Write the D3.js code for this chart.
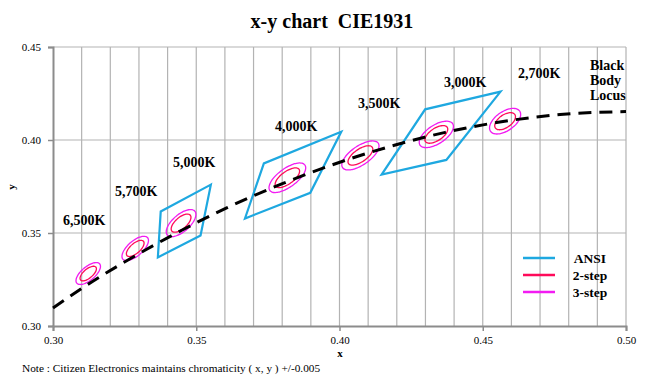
<!DOCTYPE html>
<html lang="en">
<head>
  <meta charset="UTF-8">
  <title>x-y chart CIE1931</title>
  <script src="https://d3js.org/d3.v7.min.js"></script>
  <style>
    body { margin: 0; background: #fff; }
    svg { font-family: "Liberation Serif", "Times New Roman", serif; }
    .tick-label { font-size: 11px; fill: #000; }
    .cct { font-size: 14px; font-weight: bold; fill: #000; }
    .legend text { font-size: 13.5px; font-weight: bold; }
  </style>
</head>
<body>
  <svg width="672" height="385"></svg>
  <script>
    // black body (Planckian) locus
    const locusX = [0.300, 0.3135, 0.3221, 0.3324, 0.3451, 0.3608, 0.3805, 0.4053, 0.4369, 0.4599, 0.4770, 0.500];
    const locusY = [0.3097, 0.3237, 0.3318, 0.3410, 0.3516, 0.3636, 0.3768, 0.3907, 0.4041, 0.4106, 0.4137, 0.4153];

    // ANSI quadrangles (corners x, y)
    const ansiNames = ["5,000K", "4,000K", "3,000K"];
    const ansiX = [
      [0.3551, 0.3376, 0.3366, 0.3515],
      [0.4006, 0.3736, 0.3670, 0.3898],
      [0.4562, 0.4299, 0.4147, 0.4373]
    ];
    const ansiY = [
      [0.3760, 0.3616, 0.3369, 0.3487],
      [0.4044, 0.3874, 0.3578, 0.3716],
      [0.4260, 0.4165, 0.3814, 0.3893]
    ];

    // MacAdam ellipses: centres and 1-step axes / angle
    const cctNames = ["6,500K", "5,700K", "5,000K", "4,000K", "3,500K", "3,000K", "2,700K"];
    const ellX = [0.3123, 0.3287, 0.3447, 0.3818, 0.4073, 0.4338, 0.4578];
    const ellY = [0.3282, 0.3417, 0.3553, 0.3797, 0.3917, 0.4030, 0.4101];
    const ellA = [0.00223, 0.00246, 0.00274, 0.00313, 0.00309, 0.00278, 0.00258];
    const ellB = [0.00095, 0.00103, 0.00118, 0.00134, 0.00138, 0.00136, 0.00137];
    const ellTheta = [58.23, 59.09, 59.37, 54.00, 52.90, 53.13, 57.28];
    const steps = [3, 2];

    // CCT label anchors (x, y in chart units)
    const labelX = [0.3035, 0.3216, 0.3419, 0.3775, 0.4065, 0.4365, 0.4623];
    const labelY = [0.3543, 0.3699, 0.3855, 0.4048, 0.4172, 0.4285, 0.4333];

    const xTicks = [0.30, 0.35, 0.40, 0.45, 0.50];
    const yTicks = [0.30, 0.35, 0.40, 0.45];

    const svg = d3.select("svg");
    const x = d3.scaleLinear().domain([0.30, 0.50]).range([53, 626]);
    const y = d3.scaleLinear().domain([0.30, 0.45]).range([326, 47]);

    const ansiColor = "#1ea8e0", step2Color = "#ff0a5a", step3Color = "#f21cf2";

    // grid
    const g = svg.append("g");
    g.selectAll(".vgrid")
      .data(d3.range(31, 51).map(d => d / 100))
      .enter().append("line")
      .attr("x1", d => x(d)).attr("x2", d => x(d))
      .attr("y1", y(0.45)).attr("y2", y(0.30))
      .attr("stroke", "#b3b3b3").attr("stroke-width", 1.2);
    g.selectAll(".hgrid")
      .data([0.35, 0.40, 0.45])
      .enter().append("line")
      .attr("x1", x(0.30)).attr("x2", x(0.50))
      .attr("y1", d => y(d)).attr("y2", d => y(d))
      .attr("stroke", "#b3b3b3").attr("stroke-width", 1.2);

    // axes
    const xAxis = d3.axisBottom(x).tickValues(xTicks).tickSize(5).tickPadding(5).tickFormat(d3.format(".2f"));
    const yAxis = d3.axisLeft(y).tickValues(yTicks).tickSize(5).tickPadding(7).tickFormat(d3.format(".2f"));
    const gx = svg.append("g").attr("transform", `translate(0,${y(0.30)})`).call(xAxis);
    const gy = svg.append("g").attr("transform", `translate(${x(0.30)},0)`).call(yAxis);
    [gx, gy].forEach(a => {
      a.attr("font-family", null);
      a.select(".domain").attr("stroke", "#8c8c8c").attr("stroke-width", 2);
      a.selectAll(".tick line").attr("stroke", "#8c8c8c").attr("stroke-width", 1.5);
      a.selectAll(".tick text").attr("class", "tick-label")
        .style("font-family", "Liberation Serif, serif").style("font-size", "11px");
    });

    // ANSI quadrangles
    svg.append("g").selectAll("path")
      .data(ansiNames.map((n, i) => ansiX[i].map((v, j) => [v, ansiY[i][j]])))
      .enter().append("path")
      .attr("d", d => d3.line().x(p => x(p[0])).y(p => y(p[1]))(d) + "Z")
      .attr("fill", "none").attr("stroke", ansiColor).attr("stroke-width", 2.2)
      .attr("stroke-linejoin", "miter");

    // MacAdam ellipses
    const angles = d3.range(0, 361, 6).map(d => d * Math.PI / 180);
    const ellipse = (i, k) => angles.map(t => {
      const th = ellTheta[i] * Math.PI / 180, a = ellA[i] * k, b = ellB[i] * k;
      return [ellX[i] + a * Math.cos(t) * Math.cos(th) - b * Math.sin(t) * Math.sin(th),
              ellY[i] + a * Math.cos(t) * Math.sin(th) + b * Math.sin(t) * Math.cos(th)];
    });
    const eg = svg.append("g");
    steps.forEach(k => {
      eg.selectAll(".e" + k)
        .data(cctNames)
        .enter().append("path")
        .attr("d", (d, i) => d3.line().x(p => x(p[0])).y(p => y(p[1])).curve(d3.curveCardinalClosed)(ellipse(i, k).slice(0, -1)))
        .attr("fill", "none")
        .attr("stroke", k === 2 ? step2Color : step3Color)
        .attr("stroke-width", 1.3);
    });

    // black body locus
    svg.append("path")
      .datum(locusX.map((v, i) => [v, locusY[i]]))
      .attr("d", d3.line().x(p => x(p[0])).y(p => y(p[1])).curve(d3.curveMonotoneX))
      .attr("fill", "none").attr("stroke", "#000").attr("stroke-width", 3)
      .attr("stroke-dasharray", "13,8");

    // CCT labels
    svg.append("g").selectAll("text")
      .data(cctNames)
      .enter().append("text")
      .attr("class", "cct")
      .attr("x", (d, i) => x(labelX[i])).attr("y", (d, i) => y(labelY[i]))
      .text(d => d);

    svg.append("text").attr("class", "cct")
      .selectAll("tspan").data(["Black", "Body", "Locus"])
      .enter().append("tspan")
      .attr("x", 590).attr("y", (d, i) => 70 + i * 15)
      .text(d => d);

    // legend
    const legend = svg.append("g").attr("class", "legend");
    [["ANSI", ansiColor], ["2-step", step2Color], ["3-step", step3Color]].forEach((d, i) => {
      const yy = 258 + i * 17;
      legend.append("line").attr("x1", 523).attr("x2", 555).attr("y1", yy).attr("y2", yy)
        .attr("stroke", d[1]).attr("stroke-width", 2.5);
      legend.append("text").attr("x", 590).attr("y", yy + 4.5).attr("text-anchor", "middle").text(d[0]);
    });

    // titles
    svg.append("text").attr("x", 332).attr("y", 28).attr("text-anchor", "middle")
      .style("font-size", "20px").style("font-weight", "bold")
      .text("x-y chart\u00a0\u00a0CIE1931");
    svg.append("text").attr("x", 340).attr("y", 357).attr("text-anchor", "middle")
      .style("font-size", "11px").style("font-weight", "bold").text("x");
    svg.append("text").attr("transform", "translate(15,187) rotate(-90)").attr("text-anchor", "middle")
      .style("font-size", "11px").style("font-weight", "bold").text("y");
    svg.append("text").attr("x", 22).attr("y", 372)
      .style("font-size", "11.3px").text("Note : Citizen Electronics maintains chromaticity ( x, y ) +/-0.005");
  </script>
</body>
</html>
